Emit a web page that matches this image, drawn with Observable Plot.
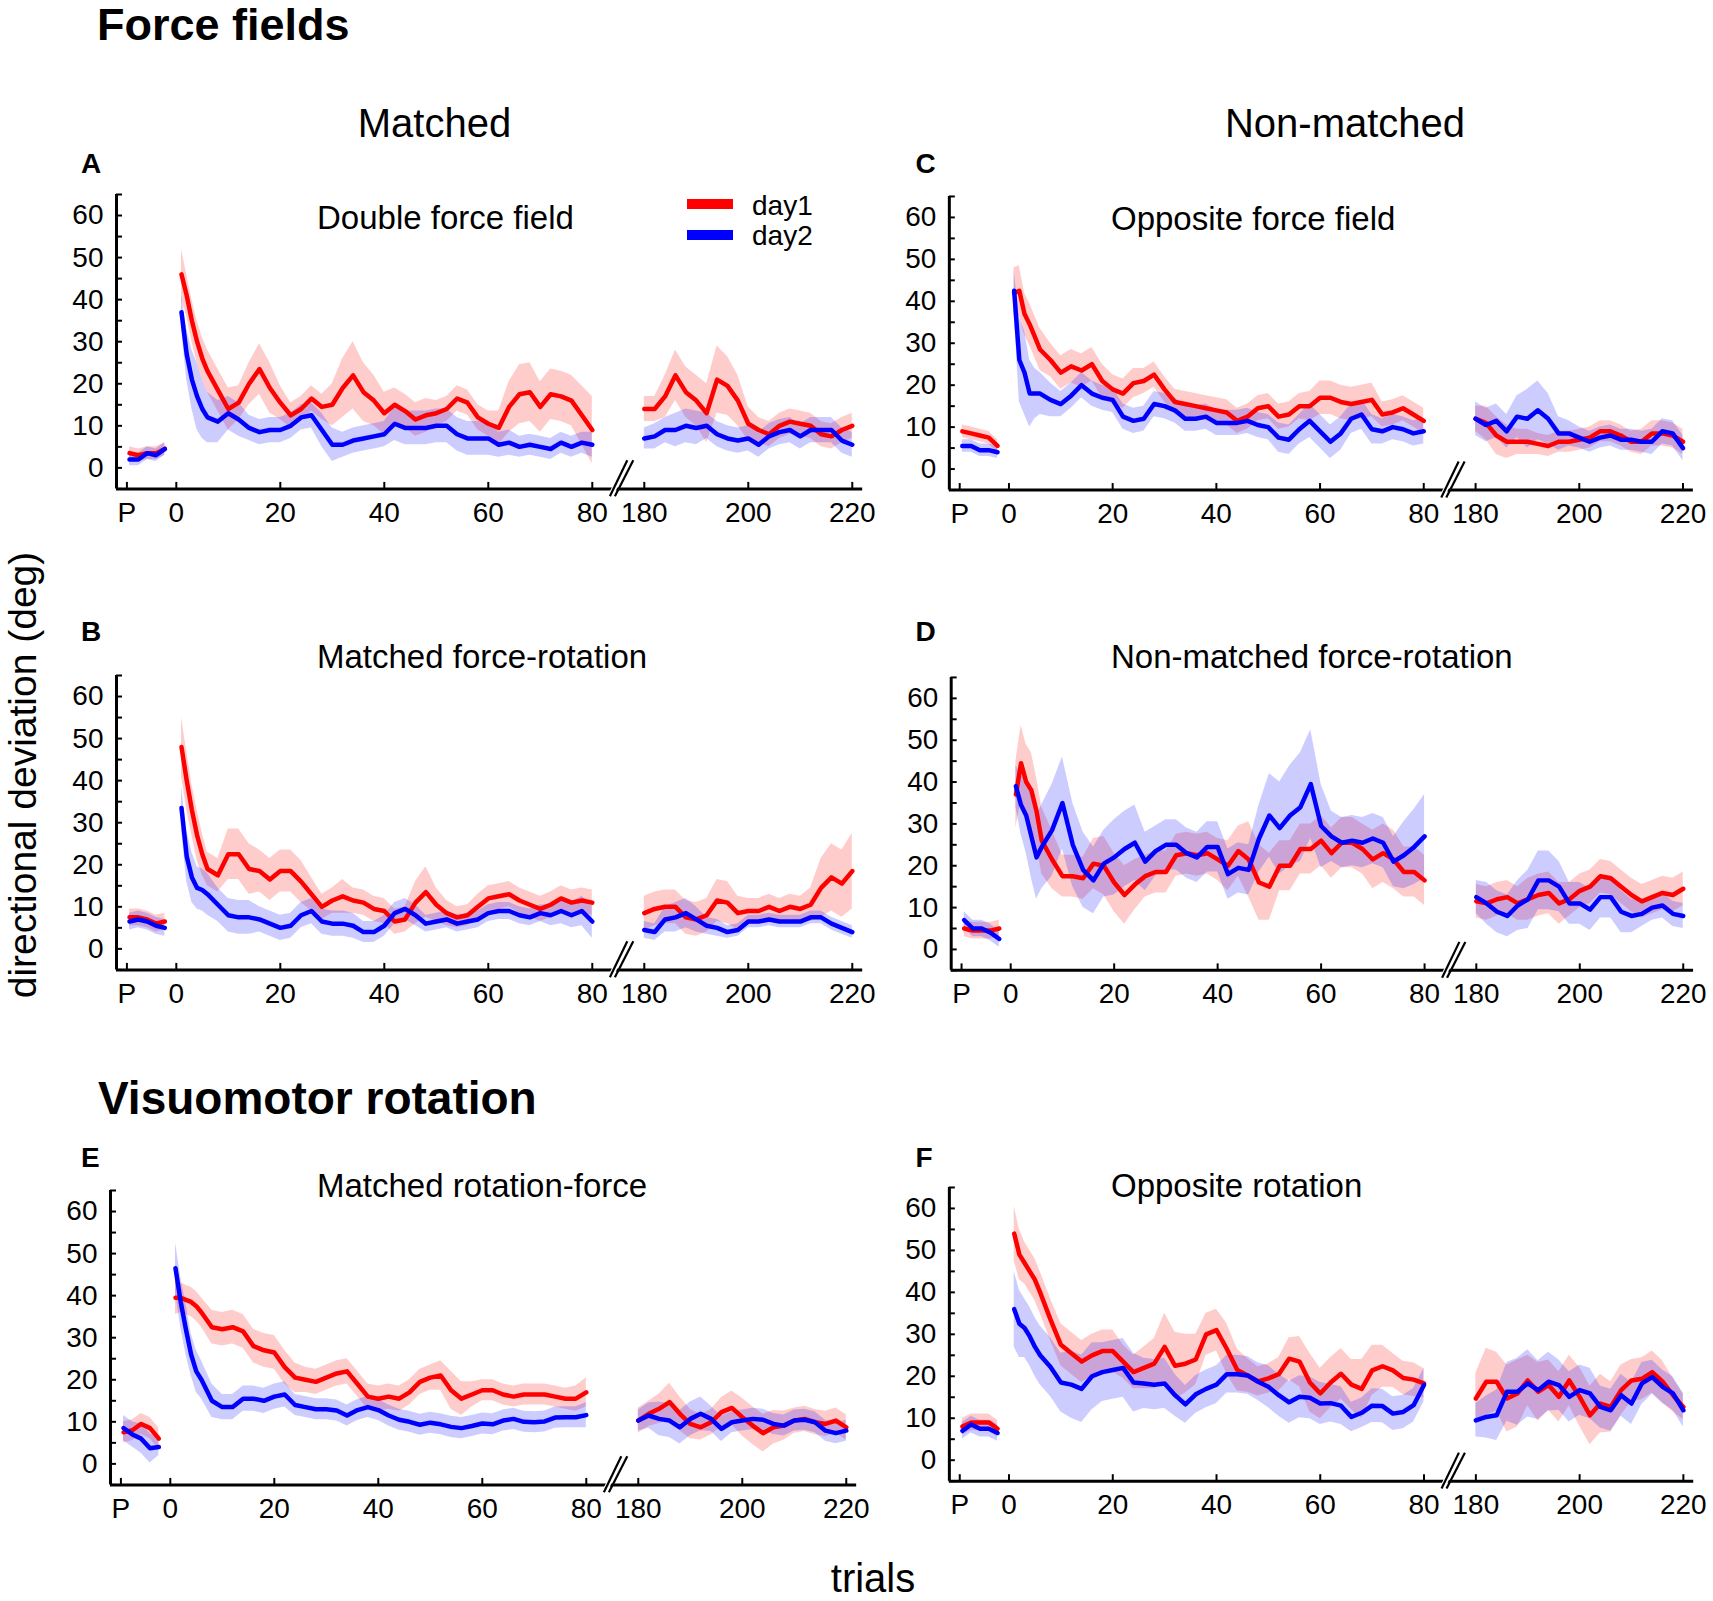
<!DOCTYPE html>
<html><head><meta charset="utf-8">
<script src="https://cdn.jsdelivr.net/npm/d3@7"></script>
<script src="https://cdn.jsdelivr.net/npm/@observablehq/plot@0.6"></script>
<style>
body{margin:0;background:#fff}
#fig{position:relative;width:1713px;height:1601px;overflow:hidden;font-family:"Liberation Sans",Arial,sans-serif}
.panel{position:absolute}
#overlay{position:absolute;left:0;top:0;pointer-events:none}
</style>
</head><body>
<div id="fig"></div>
<script>
// ---------------- data ----------------
const preTrials = [1,2,3,4,5];
const earlyTrials = [1,2,3,4,5,6,8,10,12,14,16,18,20,22,24,26,28,30,32,34,36,38,40,42,44,46,48,50,52,54,56,58,60,62,64,66,68,70,72,74,76,78,80];
const lateTrials = [180,182,184,186,188,190,192,194,196,198,200,202,204,206,208,210,212,214,216,218,220];
const xTickLabels = ["P","0","20","40","60","80","180","200","220"];
const yTickValues = [0,10,20,30,40,50,60];
const seriesNames = ["day1","day2"];

// each series: pre (5) + early (43) + late (21)
const aDay1 = [3.5,3,3.5,3.5,4.5,
 46,41,35,30,26,23, 18.5,14,15.5,20,23.5,19,15.5,12.5,14,16.5, 14.5,15,19,22,18,16,13,15,13.5,11.5, 12.5,13,14,16.5,15.5,12,10.5,9.5,14.5,17.5, 18,14.5,17.5,17,16,12.5,9,
 14,14,17,22,18,16,13,21,19.5,16,10.5,9,8,10,11,10.5,10,8,7.5,9,10];
const aDay1Sd = [1.5,1.5,1.5,1.5,1.5,
 6,5,5,5,5,5, 5,5,4,5,6,6,4,3,3,3, 3,5,7,8,7,6,5,4,4,4, 4,3,3,3,3,3,3,4,6,7, 7,6,6,6,6,7,8,
 3,3,5,6,6,6,7,8,7,6,4,3,3,3,3,3,3,3,3,3,3];
const aDay2 = [2,2,3.5,3,4.5,
 37,27,21,17,14,12, 11,13,11.5,9.5,8.5,9,9,10,12,12.5, 9,5.5,5.5,6.5,7,7.5,8,10.5,9.5,9.5, 9.5,10,10,8,7,7,7,5.5,6,5, 5.5,5,4.5,6,5,6,5.5,
 7,7.5,9,9,10,9.5,10,8,7,6.5,7,5.5,7.5,8.5,9,7.5,9,9,9,6.5,5.5];
const aDay2Sd = [1.5,1.5,1.5,1.5,1.5,
 4,6,7,8,7,6, 5,4,4,3,3,3,3,3,3,3, 4,4,3,3,3,3,3,4,4,4, 4,4,4,4,4,4,4,3,3,2.5, 2.5,2.5,2.5,2.5,2.5,2.5,3,
 2.5,3,3,4,4,4,3,3,3,3,3,3,3,3,3,3,3,3,3,3,3];

const bDay1 = [7.5,7.5,7,6,6.5,
 48,40,33,27,22.5,19, 17.5,22.5,22.5,19,18.5,16.5,18.5,18.5,16,13, 10,11.5,12.5,11.5,11,9.5,9,6.5,7,11, 13.5,10.5,8.5,7.5,8,10,12,12.5,13,11.5, 10.5,9.5,10.5,12,11,11.5,11,
 8.5,9.5,10,10,7.5,7,8,11.5,11,8.5,9,9,10,9,10,9.5,10.5,14.5,17,15.5,18.5];
const bDay1Sd = [2,2,2,2,2,
 7,7,6,6,5,4, 4,6,6,6,5,5,5,5,5,4, 3,3,4,3,3,3,3,3,3,5, 6,4,3,2.5,2.5,3,3,3,3,3, 3,3,3,3,3,3,3,
 4,4,4,4,4,4,4,5,5,4,3,3,3,3,3,3,4,7,8,8,9];
const bDay2 = [6.5,7,6.5,5.5,5,
 33.5,22,17,14.5,14,13, 10.5,8,7.5,7.5,7,6,5,5.5,8,9, 6.5,6,6,5.5,4,4,5.5,8.5,9.5,8, 6,6.5,7,6,6.5,7,8.5,9,9,8, 7.5,8.5,8,9,8,9,6.5,
 4.5,4,7,7.5,8.5,7,5.5,5,4,4.5,6.5,6.5,7,6.5,6.5,6.5,7.5,7.5,6,5,4];
const bDay2Sd = [2,2,2,2,2,
 5,6,6,5,5,5, 4,4,4,4,3,3,3,3,3,3, 3,3,3,3,2.5,2.5,2.5,2.5,2.5,2.5, 2,2,2,2,2,2,2,2,2,2, 2,2,2.5,3,3,3.5,4,
 2,2,3,3.5,3.5,3,2,2,1.5,1.5,1.5,1.5,1.5,1.5,1.5,1.5,1.5,1.5,1.5,1.5,1.5];

const cDay1 = [9,8.5,8,7.5,5.5,
 42,42.5,37,34.5,31.5,28.5, 26,23,24.5,23.5,25,21,19,18,20.5,21, 22.5,19,16,15.5,15,14.5,14,13.5,11.5,12.5, 14.5,15,12.5,13,15,15,17,17,16,15.5, 16,16.5,13,13.5,14.5,13,11.5,
 12,11,8,6.5,6.5,6.5,6,5.5,6.5,6.5,7,7.5,9,9,8,6.5,6.5,8.5,8.5,8,6.5];
const cDay1Sd = [1.5,1.5,1.5,1.5,1.5,
 6,6,5,5,5,5, 4,4,4,4,4,4,3.5,3.5,3.5,3, 3,3,3,3,3,3,3,3,3,3, 3,3,3,3,3,3.5,4,4,4,4, 4,4,3,3,3,3,3,
 3,4,4.5,4,3,3,2.5,2.5,2.5,2.5,2.5,2.5,2.5,2.5,2.5,2.5,3,3,3,3,3];
const cDay2 = [5.5,5.5,4.5,4.5,4,
 42.5,26,23,18,18,18, 16.5,15.5,17.5,20,18,17,16.5,12.5,11.5,12, 15.5,15,14,12,12,12.5,11,11,11,11.5, 10.5,10,7.5,7,9.5,11.5,9,6.5,8.5,12, 13,9.5,9,10,9.5,8.5,9,
 12,10.5,11.5,9,12.5,12,14,12,8.5,8.5,7.5,6.5,7.5,8,7,7,6.5,6.5,9,8.5,5];
const cDay2Sd = [1.5,1.5,1.5,1.5,1.5,
 5,10,10,8,6,5, 4,3,3,3,3,3,3,3,3,3, 3,3,3,3,3,3,3,3,3,3, 3,3,3.5,3.5,3.5,4,4,4,4,3.5, 3.5,3.5,3,3,3,3,3,
 4,4,4,4,5,7,7,6,4,3,2.5,2.5,2.5,2.5,2.5,2.5,2.5,3,3,3,3];

const dDay1 = [5,4.5,4.5,4.5,5,
 37,44.5,40,38,33,26, 21.5,17.5,17.5,17,20.5,20,16,13,15.5,17.5, 18.5,18.5,22.5,23,22.5,23,21.5,20,23.5,21.5, 16,15,20,20,24,24,26,23,25.5,25.5, 24,21.5,23,21.5,18.5,18.5,16.5,
 11.5,11,12,12.5,11,12,13,13.5,11,12,14,15,17.5,17,15,13,11.5,12.5,13.5,13,14.5];
const dDay1Sd = [2,2,2,2,2,
 8,9,9,9,8,8, 7,5,5,5,6,7,7,7,6,5, 5,5,5,5,5,5,5,6,6,9, 9,8,6,6,6,6,6,6,6,6, 6,7,7,7,6,6,6,
 4,4,4,4,4,5,5,5,5,4,4,4,4,4,4,4,4,4,4,4,4];
const dDay2 = [7,5,5,4,2.5,
 39,34.5,32,27,22,24.5, 28.5,35,25,19,16.5,20.5,22,24,25.5,21, 23.5,25,25,23,22,24.5,24.5,18,19.5,19, 26.5,32,29,32,34,39.5,29.5,27,25.5,26, 25.5,26.5,25.5,21,22.5,24.5,27,
 12.5,11,9,8,10.5,12,16.5,16.5,15,11,11,9.5,12.5,12.5,9,8,8.5,10,10.5,8.5,8];
const dDay2Sd = [2,2,2,2,2,
 5,7,9,10,10,10, 11,11,10,9,8,8,9,9,9,7, 6,6,6,6,6,6,6,6,6,6, 8,10,11,12,13,13,10,6,6,6, 6,6,6,6,8,9,10,
 4,5,5,5,6,7,7,7,6,5,5,5,5,5,5,4,3,3,3,3,3];

const eDay1 = [7.5,8,9.5,8.5,6,
 39.5,39.5,39,38.5,37.5,36, 32.5,32,32.5,31.5,28,27,26.5,23,20.5,20, 19.5,20.5,21.5,22,19,16,15.5,16,15.5,17, 19.5,20.5,21,17.5,15.5,16.5,17.5,17.5,16.5,16, 16.5,16.5,16.5,16,15.5,15.5,17,
 10.3,11.9,13.1,14.7,11.9,9.5,8.7,9.9,12.3,13.3,11.1,9.1,7.3,8.7,9.1,10.3,10.7,9.9,9.5,10.3,8.7];
const eDay1Sd = [2.5,2.5,2.5,2.5,2.5,
 4,3.5,3.5,3.5,3.5,3.5, 4,4,4,4,4,4,4,4,3.5,3, 3,3,3,3,3,3,3,3,3,3, 3,3,3.5,4.5,4,3,2.5,2.5,2.5,2.5, 2.5,2.5,2.5,2.5,2.5,3,3.5,
 3,3,3.5,4.5,4,3.5,3,3,3.5,4,4.5,4.5,4.5,4,3.5,3,3,3,3,3,3];
const eDay2 = [8.5,7,6,3.7,4,
 46.5,38.5,32,26,22,20, 15,13.5,13.5,15.5,15.5,15,16,16.5,14,13.5, 13,13,12.7,11.5,12.8,13.5,12.8,11.5,10.5,10, 9.3,9.8,9.4,8.8,8.5,9,9.6,9.4,10.3,10.7, 10,9.9,10.1,11,11.1,11.1,11.6,
 10.3,11.5,10.7,10.3,8.7,10.7,11.9,10.7,8.3,9.9,10.3,10.7,10.5,9.5,9.1,10.3,10.5,9.9,7.9,7.3,7.9];
const eDay2Sd = [3,3,3.5,3.5,2,
 6,6,6,5,5,4.5, 4,3,3,3,3,3,3,3,2.5,2.5, 2.5,2.5,2.5,2.5,2.5,2.5,2.5,2.5,2.5,2.5, 2.5,2.5,2.5,2.5,2.5,2.5,2.5,2.5,2.5,2.5, 2.5,2.5,2.5,2.5,2.5,2.5,3,
 2.5,3,4,4,4,4,4,3,3,2.5,2.5,2.5,2.5,2.5,2.5,2.5,2.5,2.5,2.5,2.5,2.5];

const fDay1 = [8,9,9,9,7.5,
 54,49,47,45,43,40, 33.5,27.5,25.5,23.5,25,26,26,23.5,21,22, 23,27,22.5,23,24,30,31,26.5,21.5,20.2, 18.8,19.5,20.5,24.2,23.5,18.5,15.9,18.5,20.6,18, 17,21.4,22.4,21.4,19.6,19.2,18.3,
 14.7,18.7,18.7,14.7,15.9,19,16.3,17.9,15.1,19,15.1,10.7,13.5,12.7,16.7,19,19.4,21,18.7,15.5,12.7];
const fDay1Sd = [2,2,2,2,2,
 6.5,6,5,5,5,5, 5,5,5,5,5,5,5,4,4,5, 6,8,8,7,6,5,5,6,5,4, 3.5,3.5,4,5,6,7,6,6,6,6, 7,6,5,4,4,4,3.5,
 6,8,7,8,8,6,7,6,6,6,7,7,7,6,6,5,5,5,5,4,3];
const fDay2 = [7,8.5,7.5,7.5,6.5,
 36,32.5,31.5,29.5,27,25, 22.2,18.5,18,17,20,21,21.5,22,18.5,18.3, 18,18.3,15.5,13.3,15.7,17,18,20.5,20.5,20.2, 18.7,17.5,15.5,13.8,15.1,14.9,13.5,13.6,13,10.3, 11.3,13,12.9,11.1,11.5,13.1,17.9,
 9.5,10.3,10.7,16.3,16.3,18.3,16.7,18.7,17.9,15.1,16.7,15.9,12.7,11.9,15.5,13.5,18.3,19.8,17.5,15.9,11.9];
const fDay2Sd = [2,2,2,2,2,
 9,8,7,7,7,7, 7,7,8,8,8,7,7,7,7,6, 6,6,5,4.5,4.5,4.5,4.5,4.5,4.5,4.5, 4.5,5,5,5,5,5,5,4.5,4.5,3.5, 3.5,4,4,4,4,4,4,
 4,5,6,7,8,8,7,7,6,6,6,6,5,5,5,5,5,4,4,4,4];

// ---------------- layout ----------------
const LATE_SHIFT = 90;           // trial 180 drawn at position 90
const PRE_START = -9, PRE_STEP = 1.7, P_TICK = -9.5;
const xTickPos = [P_TICK, 0, 20, 40, 60, 80, 180 - LATE_SHIFT, 200 - LATE_SHIFT, 220 - LATE_SHIFT];
const PX = 5.2, PY = 4.206;
const X0 = -11.5, X1 = 132, Y0 = -5, Y1 = 65;
const ML = 60, MR = 20, MT = 12, MB = 50;
const W = ML + (X1 - X0) * PX + MR, H = MT + (Y1 - Y0) * PY + MB;
const RED = "#ff0000", BLUE = "#0000ff";
const FONT = "'Liberation Sans', Arial, Helvetica, sans-serif";

const panels = [
  {id:"A", x0:175.8, y0:467.6, d1:aDay1, s1:aDay1Sd, d2:aDay2, s2:aDay2Sd},
  {id:"B", x0:176.2, y0:948.3, d1:bDay1, s1:bDay1Sd, d2:bDay2, s2:bDay2Sd},
  {id:"C", x0:1009,  y0:469.6, d1:cDay1, s1:cDay1Sd, d2:cDay2, s2:cDay2Sd},
  {id:"D", x0:1010.8,y0:950.3, d1:dDay1, s1:dDay1Sd, d2:dDay2, s2:dDay2Sd},
  {id:"E", x0:169.5, y0:1463.5,d1:eDay1, s1:eDay1Sd, d2:eDay2, s2:eDay2Sd},
  {id:"F", x0:1008.6,y0:1460.5,d1:fDay1, s1:fDay1Sd, d2:fDay2, s2:fDay2Sd}
];

function buildRows(mean, sd) {
  const out = [];
  const nP = preTrials.length, nE = earlyTrials.length;
  preTrials.forEach((t, i) => out.push({seg:"pre", pos: PRE_START + i * PRE_STEP, v: mean[i], lo: mean[i] - sd[i], hi: mean[i] + sd[i]}));
  earlyTrials.forEach((t, i) => { const k = nP + i; out.push({seg:"early", pos: t, v: mean[k], lo: mean[k] - sd[k], hi: mean[k] + sd[k]}); });
  lateTrials.forEach((t, i) => { const k = nP + nE + i; out.push({seg:"late", pos: t - LATE_SHIFT, v: mean[k], lo: mean[k] - sd[k], hi: mean[k] + sd[k]}); });
  return out;
}

const fig = document.getElementById("fig");
const yMinor = d3.range(Y0, Y1 + 0.1, 5);
const ux = PX, uy = PY;
const breakAt = 80;
const slashes = [
  {x1: breakAt + 17.6/ux, y1: Y0 - 7.4/uy, x2: breakAt + 35/ux, y2: Y0 + 28.6/uy},
  {x1: breakAt + 22.6/ux, y1: Y0 - 7.4/uy, x2: breakAt + 41/ux, y2: Y0 + 28.6/uy}
];
const gap = [{x1: breakAt + 20.1/ux, y1: Y0 - 3/uy, x2: breakAt + 26/ux, y2: Y0 + 9/uy}];

for (const p of panels) {
  const r1 = buildRows(p.d1, p.s1), r2 = buildRows(p.d2, p.s2);
  const svg = Plot.plot({
    width: W, height: H,
    marginLeft: ML, marginRight: MR, marginTop: MT, marginBottom: MB,
    x: {domain: [X0, X1]},
    y: {domain: [Y0, Y1]},
    style: {fontFamily: FONT, fontSize: "28px", background: "transparent", overflow: "visible", color: "#000"},
    marks: [
      Plot.areaY(r1, {x: "pos", y1: "lo", y2: "hi", z: "seg", fill: RED, fillOpacity: 0.2}),
      Plot.areaY(r2, {x: "pos", y1: "lo", y2: "hi", z: "seg", fill: BLUE, fillOpacity: 0.2}),
      Plot.lineY(r1, {x: "pos", y: "v", z: "seg", stroke: RED, strokeWidth: 4.5, strokeLinejoin: "round"}),
      Plot.lineY(r2, {x: "pos", y: "v", z: "seg", stroke: BLUE, strokeWidth: 4.5, strokeLinejoin: "round"}),
      Plot.ruleY(yMinor, {y: d => d, x1: X0, x2: X0 + 6/ux, stroke: "#000", strokeWidth: 2}),
      Plot.ruleX(xTickPos, {x: d => d, y1: Y0, y2: Y0 + 6.5/uy, stroke: "#000", strokeWidth: 2}),
      Plot.ruleX([X0], {y1: Y0, y2: Y1, stroke: "#000", strokeWidth: 3}),
      Plot.ruleY([Y0], {x1: X0, x2: X1, stroke: "#000", strokeWidth: 3}),
      Plot.link(gap, {x1: "x1", y1: "y1", x2: "x2", y2: "y2", stroke: "#fff", strokeWidth: 5}),
      Plot.link(slashes, {x1: "x1", y1: "y1", x2: "x2", y2: "y2", stroke: "#000", strokeWidth: 2.2}),
      Plot.axisY({ticks: yTickValues, tickSize: 0, tickPadding: 13, label: null, fontSize: 28}),
      Plot.axisX({ticks: xTickPos, tickFormat: d => xTickLabels[xTickPos.indexOf(d)], tickSize: 0, tickPadding: 13, label: null, fontSize: 28})
    ]
  });
  const holder = document.createElement("div");
  holder.className = "panel";
  holder.style.left = (p.x0 - (0 - X0) * PX - ML) + "px";
  holder.style.top = (p.y0 - Y1 * PY - MT) + "px";
  holder.appendChild(svg);
  fig.appendChild(holder);
}

// ---------------- text overlay ----------------
const texts = [
  {t:"Force fields", x:97, y:40, s:45, w:"bold"},
  {t:"Visuomotor rotation", x:98, y:1114, s:46, w:"bold"},
  {t:"Matched", x:434.5, y:137, s:40, a:"middle"},
  {t:"Non-matched", x:1345, y:137, s:40, a:"middle"},
  {t:"A", x:81, y:172.5, s:28, w:"bold"},
  {t:"C", x:915.5, y:172.5, s:28, w:"bold"},
  {t:"B", x:81, y:641, s:28, w:"bold"},
  {t:"D", x:915.5, y:641, s:28, w:"bold"},
  {t:"E", x:81, y:1167, s:28, w:"bold"},
  {t:"F", x:915.5, y:1167, s:28, w:"bold"},
  {t:"Double force field", x:317, y:229, s:33},
  {t:"Opposite force field", x:1111, y:230, s:33},
  {t:"Matched force-rotation", x:317, y:668, s:33},
  {t:"Non-matched force-rotation", x:1111, y:668, s:33},
  {t:"Matched rotation-force", x:317, y:1197, s:33},
  {t:"Opposite rotation", x:1111, y:1197, s:33},
  {t:"trials", x:873, y:1592, s:40, a:"middle"},
  {t:seriesNames[0], x:752, y:215, s:28},
  {t:seriesNames[1], x:752, y:245, s:28}
];
const ov = d3.select(fig).append("svg").attr("id", "overlay").attr("width", 1713).attr("height", 1601)
  .style("font-family", FONT);
ov.selectAll("text.lbl").data(texts).join("text").attr("class", "lbl")
  .attr("x", d => d.x).attr("y", d => d.y)
  .attr("font-size", d => d.s).attr("font-weight", d => d.w || "normal")
  .attr("text-anchor", d => d.a || "start").attr("fill", "#000").text(d => d.t);
ov.append("text").attr("transform", "translate(36,775) rotate(-90)").attr("text-anchor", "middle")
  .attr("font-size", 39).attr("fill", "#000").text("directional deviation (deg)");
// legend swatches
ov.append("rect").attr("x", 687).attr("y", 199).attr("width", 46).attr("height", 10).attr("fill", RED);
ov.append("rect").attr("x", 687).attr("y", 230).attr("width", 46).attr("height", 10).attr("fill", BLUE);
</script>
</body></html>
